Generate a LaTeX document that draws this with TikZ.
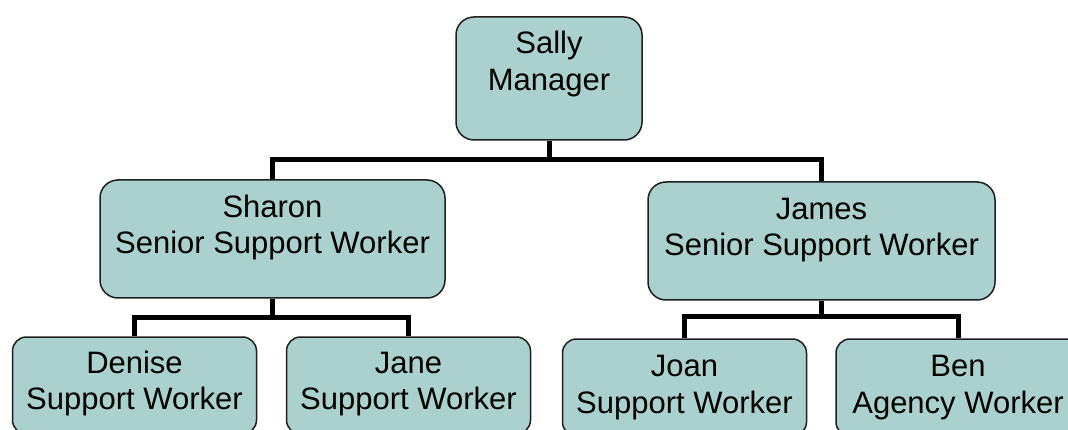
\documentclass[tikz,border=0pt]{standalone}
\usepackage{fontspec}
\setmainfont{Liberation Sans}
\definecolor{boxfill}{RGB}{170,209,206}
\definecolor{boxline}{RGB}{30,30,30}
% Two centred lines; the extra depth (#1) lifts the text inside its box.
\newcommand\persontext[3]{\raisebox{0pt}[\height][\dimexpr\depth+#1\relax]{%
  \begin{tabular}{@{}c@{}}#2\\#3\end{tabular}}}
\begin{document}
\begin{tikzpicture}[x=1pt, y=-1pt,
  person/.style={draw=boxline, line width=1.5pt, fill=boxfill, rounded corners=18pt,
    inner sep=0pt, font=\fontsize{31}{36.5}\selectfont},
  small/.style={person, rounded corners=14pt, minimum width=244pt, minimum height=97pt},
  link/.style={draw=black, line width=5pt, line join=miter}]
\useasboundingbox (0,0) rectangle (1068,430);
\fill[white] (0,0) rectangle (1068,430);

% heights of the three horizontal bars
\coordinate (topbar) at (0,160);
\coordinate (leftbar) at (0,317);
\coordinate (rightbar) at (0,316);

% manager
\node[person, minimum width=186pt, minimum height=123pt] (sally) at (549,78.5)
  {\persontext{28pt}{Sally}{Manager}};

% senior support workers
\node[person, minimum width=345pt, minimum height=118pt] (sharon) at (272.5,239)
  {\persontext{22pt}{Sharon}{Senior Support Worker}};
\node[person, minimum width=347pt, minimum height=118pt] (james) at (821.5,241)
  {\persontext{22pt}{James}{Senior Support Worker}};

% support workers
\node[small] (denise) at (134.5,385.5) {\persontext{3pt}{Denise}{Support Worker}};
\node[small] (jane) at (408.5,385.5) {\persontext{3pt}{Jane}{Support Worker}};
\node[small] (joan) at (684.5,387.5) {\persontext{0pt}{Joan}{Support Worker}};
\node[small] (ben) at (958,387.5) {\persontext{0pt}{Ben}{Agency Worker}};

% reporting lines
\path[link] (sally.south) -- (sally.south |- topbar);
\path[link] (sharon.north) -- (sharon.north |- topbar) -- (james.north |- topbar) -- (james.north);

\path[link] (sharon.south) -- (sharon.south |- leftbar);
\path[link] (denise.north) -- (denise.north |- leftbar) -- (jane.north |- leftbar) -- (jane.north);

\path[link] (james.south) -- (james.south |- rightbar);
\path[link] (joan.north) -- (joan.north |- rightbar) -- (ben.north |- rightbar) -- (ben.north);
\end{tikzpicture}
\end{document}
